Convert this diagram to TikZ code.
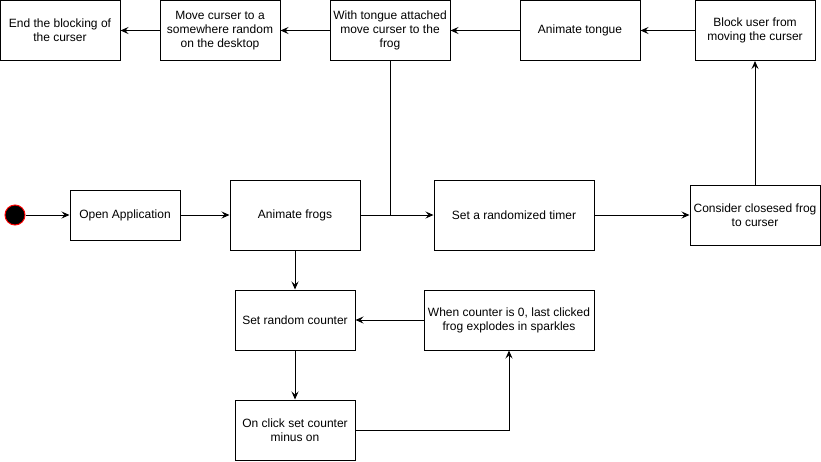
\documentclass[tikz,border=0pt]{standalone}
\usepackage{fontspec}
\setmainfont{Liberation Sans}
\usetikzlibrary{arrows.meta,positioning,calc}

\begin{document}
\begin{tikzpicture}[
            x=1pt,
            y=-1pt,
            block/.style={
                draw,
                line width=1pt,
                align=center,
                inner sep=2pt,
                font=\fontsize{12}{14}\selectfont
            },
            startdot/.style={
                circle,
                draw=red,
                fill=black,
                line width=1pt,
                minimum size=20pt,
                inner sep=0pt
            },
            flow/.style={
                line width=1pt,
                -{Stealth[length=8pt,width=7pt,inset=3pt]}
            },
            plain/.style={
                line width=1pt
            }
        ]

% Canvas
            \useasboundingbox (0,0) rectangle (821,461);

% Row heights
            \def\yTop{30.5}
            \def\yMid{215}
            \def\yCnt{320}
            \def\yClk{430}

% --- Middle row ---
            \node[startdot] (start) at (15,\yMid) {};
            \node[block, minimum width=110pt, minimum height=50pt] (open) at (125,\yMid) {Open Application};
            \node[block, minimum width=130pt, minimum height=70pt] (frogs) at (295,\yMid) {Animate frogs};
            \node[block, minimum width=160pt, minimum height=70pt] (timer) at (514,\yMid) {Set a randomized timer};
            \node[block, minimum width=130pt, minimum height=60pt] (closest) at (755,\yMid) {Consider closesed frog\\to curser};

% --- Top row (right to left) ---
            \node[block, minimum width=120pt, minimum height=60pt] (blockuser) at (755,\yTop) {Block user from\\moving the curser};
            \node[block, minimum width=120pt, minimum height=60pt] (tongue) at (580,\yTop) {Animate tongue};
            \node[block, minimum width=120pt, minimum height=60pt] (attach) at (390,\yTop) {With tongue attached\\move curser to the\\frog};
            \node[block, minimum width=120pt, minimum height=60pt] (moverand) at (220,\yTop) {Move curser to a\\somewhere random\\on the desktop};
            \node[block, minimum width=120pt, minimum height=60pt] (endblock) at (60,\yTop) {End the blocking of\\the curser};

% --- Counter loop ---
            \node[block, minimum width=120pt, minimum height=60pt] (counter) at (295,\yCnt) {Set random counter};
            \node[block, minimum width=170pt, minimum height=60pt] (explode) at (509,\yCnt) {When counter is 0, last clicked\\frog explodes in sparkles};
            \node[block, minimum width=120pt, minimum height=60pt] (click) at (295,\yClk) {On click set counter\\minus on};

% Junction on the frogs -> timer line
            \coordinate (join) at (attach.south |- frogs.east);

% Connectors
            \draw[flow] (start) -- (open);
            \draw[flow] (open) -- (frogs);
            \draw[flow] (frogs) -- (timer);
            \draw[plain] (attach.south) -- (join);
            \draw[flow] (timer) -- (closest);
            \draw[flow] (closest) -- (blockuser);
            \draw[flow] (blockuser) -- (tongue);
            \draw[flow] (tongue) -- (attach);
            \draw[flow] (attach) -- (moverand);
            \draw[flow] (moverand) -- (endblock);
            \draw[flow] (frogs) -- (counter);
            \draw[flow] (counter) -- (click);
            \draw[flow] (click.east) -| (explode.south);
            \draw[flow] (explode) -- (counter);

        \end{tikzpicture}
\end{document}
